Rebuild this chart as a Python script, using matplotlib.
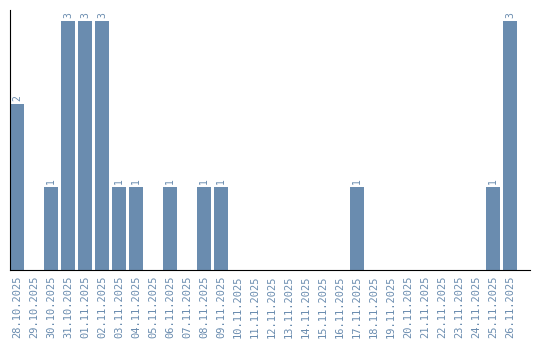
import matplotlib
matplotlib.use("Agg")
import matplotlib.pyplot as plt

dates = [
    "28.10.2025", "29.10.2025", "30.10.2025", "31.10.2025", "01.11.2025",
    "02.11.2025", "03.11.2025", "04.11.2025", "05.11.2025", "06.11.2025",
    "07.11.2025", "08.11.2025", "09.11.2025", "10.11.2025", "11.11.2025",
    "12.11.2025", "13.11.2025", "14.11.2025", "15.11.2025", "16.11.2025",
    "17.11.2025", "18.11.2025", "19.11.2025", "20.11.2025", "21.11.2025",
    "22.11.2025", "23.11.2025", "24.11.2025", "25.11.2025", "26.11.2025",
]
counts = [2, 0, 1, 3, 3, 3, 1, 1, 0, 1, 0, 1, 1, 0, 0,
          0, 0, 0, 0, 0, 1, 0, 0, 0, 0, 0, 0, 0, 1, 3]

BAR = "#6a8caf"

fig = plt.figure(figsize=(5.4, 3.4), dpi=100)
ax = fig.add_axes([10 / 540, 70 / 340, 520 / 540, 260 / 340])

x = list(range(len(dates)))
ax.bar(x, counts, width=0.82, color=BAR)
for xi, v in zip(x, counts):
    if v > 0:
        ax.text(xi, v + 0.03, str(v), rotation=90, ha="center", va="bottom",
                fontsize=7, color=BAR, family="DejaVu Sans Mono")

ax.set_xlim(-0.41, 30.18)
ax.set_ylim(0, 3.13)
ax.set_xticks(x)
ax.set_xticklabels(dates, rotation=90, fontsize=7.5, color=BAR,
                   family="DejaVu Sans Mono")
ax.tick_params(axis="x", length=0, pad=4)
ax.set_yticks([])
ax.spines["top"].set_visible(False)
ax.spines["right"].set_visible(False)

fig.savefig("out.png", dpi=100)
